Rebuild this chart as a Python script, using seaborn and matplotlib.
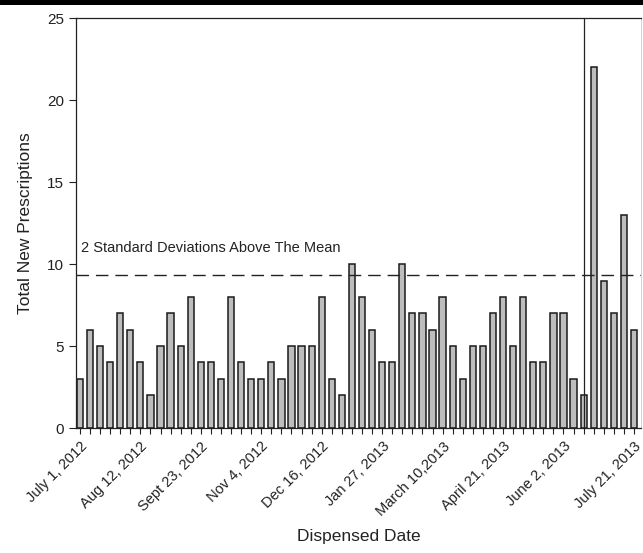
import matplotlib
matplotlib.use("Agg")
import matplotlib.pyplot as plt
import matplotlib.lines as mlines
import seaborn as sns
import pandas as pd

# weekly counts of new prescriptions, July 1 2012 .. July 21 2013
weeks = list(range(1, 57))
counts = [3, 6, 5, 4, 7, 6, 4, 2, 5, 7, 5, 8, 4, 4, 3, 8, 4, 3, 3, 4,
          3, 5, 5, 5, 8, 3, 2, 10, 8, 6, 4, 4, 10, 7, 7, 6, 8, 5, 3, 5,
          5, 7, 8, 5, 8, 4, 4, 7, 7, 3, 2, 22, 9, 7, 13, 6]
label_weeks = [1, 7, 13, 19, 25, 31, 37, 43, 49, 56]
tick_labels = ["July 1, 2012", "Aug 12, 2012", "Sept 23, 2012", "Nov 4, 2012",
               "Dec 16, 2012", "Jan 27, 2013", "March 10,2013", "April 21, 2013",
               "June 2, 2013", "July 21, 2013"]
threshold = 9.35          # 2 SD above the mean
event_week = 51
threshold_text = "2 Standard Deviations Above The Mean"

df = pd.DataFrame({"week": weeks, "count": counts})

sns.set_style("ticks")
plt.rcParams["font.family"] = ["Liberation Sans", "DejaVu Sans"]

fig = plt.figure(figsize=(6.43, 5.53), dpi=100)
ax = fig.add_axes([0.118, 0.226, 0.879, 0.741])

sns.barplot(data=df, x="week", y="count", order=weeks, color="#bdbdbd",
            saturation=1, edgecolor="#1a1a1a", linewidth=1.1, width=0.62, ax=ax)

ax.axhline(threshold, color="#222222", linestyle=(0, (9, 5)), linewidth=1)
ax.axvline(weeks.index(event_week), color="#222222", linewidth=0.9)
ax.text(0.15, 11, threshold_text, fontsize=10.5, color="#222222",
        ha="left", va="center")

ax.set_ylim(0, 25)
ax.set_xlim(-0.4, len(weeks) - 0.3)
ax.set_yticks([0, 5, 10, 15, 20, 25])
ax.set_xticks(range(len(weeks)))
lab = ["" for _ in weeks]
for w, t in zip(label_weeks, tick_labels):
    lab[weeks.index(w)] = t
ax.set_xticklabels(lab, rotation=45, ha="right", rotation_mode="anchor")
ax.tick_params(axis="x", length=4, width=0.8, labelsize=10.5, pad=4, colors="#222222")
ax.tick_params(axis="y", length=5, width=0.8, labelsize=11, colors="#222222")

ax.set_xlabel("Dispensed Date", fontsize=12.5, color="#222222", labelpad=8)
ax.set_ylabel("Total New Prescriptions", fontsize=12.5, color="#222222", labelpad=10)

for s in ["left", "bottom", "top"]:
    ax.spines[s].set_color("#222222")
    ax.spines[s].set_linewidth(0.9)
ax.spines["right"].set_color("#cccccc")
ax.spines["right"].set_linewidth(0.6)

fig.add_artist(mlines.Line2D([0, 1], [0.997, 0.997], color="black",
                             linewidth=3.6, transform=fig.transFigure))

fig.savefig("out.png", dpi=100)
